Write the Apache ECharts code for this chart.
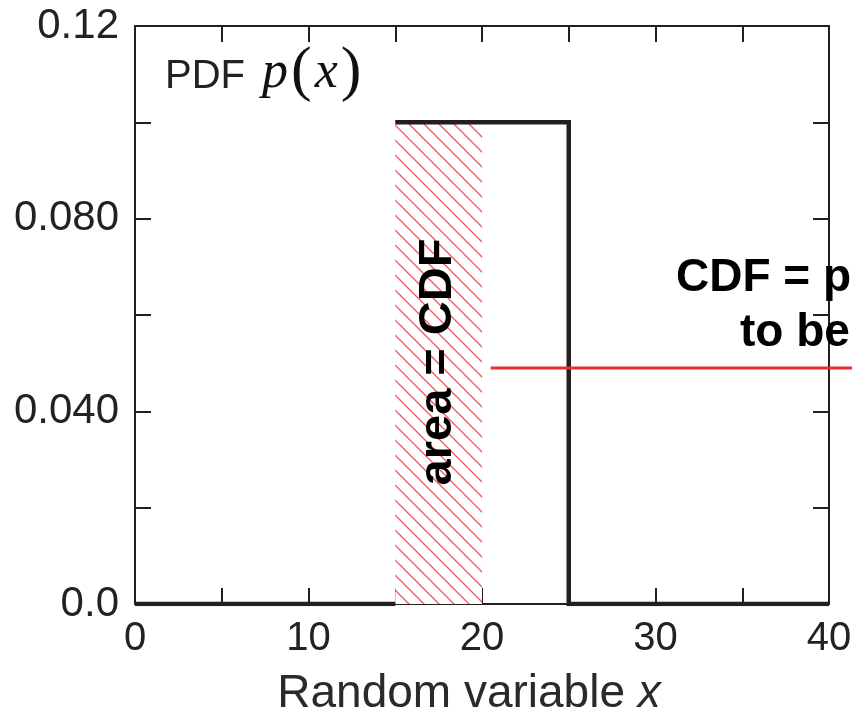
<!DOCTYPE html>
<html>
<head>
<meta charset="utf-8">
<script src="https://cdn.jsdelivr.net/npm/echarts@6/dist/echarts.min.js"></script>
<style>
  html, body { margin: 0; padding: 0; background: #fff; }
  #chart { width: 852px; height: 711px; }
</style>
</head>
<body>
<div id="chart"></div>
<script>
// step PDF p(x): uniform between 15 and 25
var pdfX = [0, 15, 15, 25, 25, 40];
var pdfY = [0, 0, 0.1, 0.1, 0, 0];
// hatched area = CDF
var hatchX = [15, 20];
var hatchY = [0.1, 0.1];
// red level line (runs off the right edge)
var cdfLineX = [20.5, 42];
var cdfLineY = [0.049, 0.049];
// axis tick labels
var xLabelValues = [0, 10, 20, 30, 40];
var yLabelValues = [0, 0.04, 0.08, 0.12];
var yLabelTexts = ['0.0', '0.040', '0.080', '0.12'];

var ink = '#231f20';

function hatchPattern() {
  var c = document.createElement('canvas');
  c.width = 15; c.height = 15;
  var g = c.getContext('2d');
  g.fillStyle = '#fff';
  g.fillRect(0, 0, 15, 15);
  g.strokeStyle = '#f5555a';
  g.lineWidth = 1.3;
  g.beginPath();
  g.moveTo(-2, -2); g.lineTo(17, 17);
  g.moveTo(-2, 13); g.lineTo(2, 17);
  g.moveTo(13, -2); g.lineTo(17, 2);
  g.stroke();
  return c;
}

function pairs(xs, ys) {
  return xs.map(function (x, i) { return [x, ys[i]]; });
}

// fresh axis object each time, ticks pointing into the plot
function makeAxis(extra) {
  var ax = {
    type: 'value',
    axisLine: { show: true, onZero: false, lineStyle: { color: ink, width: 2 } },
    axisTick: { show: true, inside: true, length: 16, lineStyle: { color: ink, width: 2 } },
    splitLine: { show: false }
  };
  for (var k in extra) ax[k] = extra[k];
  return ax;
}

var pdfPts = pairs(pdfX, pdfY);

var chart = echarts.init(document.getElementById('chart'));
chart.setOption({
  animation: false,
  grid: { left: 135, right: 23, top: 26, bottom: 107, outerBoundsMode: 'none', containLabel: false },
  xAxis: [
    makeAxis({
      position: 'bottom', min: 0, max: 40, interval: 5,
      axisLabel: {
        fontFamily: 'Liberation Sans', fontSize: 40, color: '#222', margin: 15,
        formatter: function (v) { return xLabelValues.indexOf(v) >= 0 ? String(v) : ''; }
      },
      name: '{a|Random variable }{i|x}',
      nameLocation: 'middle',
      nameGap: 67,
      nameTextStyle: {
        padding: [0, 26, 0, 0],
        rich: {
          a: { fontFamily: 'Liberation Sans', fontSize: 46, color: '#2a2a2a' },
          i: { fontFamily: 'Liberation Sans', fontStyle: 'italic', fontSize: 46, color: '#2a2a2a' }
        }
      }
    }),
    makeAxis({
      position: 'top', min: 0, max: 40, interval: 5,
      axisLabel: { show: false }
    })
  ],
  yAxis: [
    makeAxis({
      position: 'left', min: 0, max: 0.12, interval: 0.02,
      axisLabel: {
        fontFamily: 'Liberation Sans', fontSize: 42, color: '#222', margin: 16,
        formatter: function (v) {
          for (var i = 0; i < yLabelValues.length; i++) {
            if (Math.abs(v - yLabelValues[i]) < 1e-9) return yLabelTexts[i];
          }
          return '';
        }
      }
    }),
    makeAxis({
      position: 'right', min: 0, max: 0.12, interval: 0.02,
      axisLabel: { show: false }
    })
  ],
  series: [
    {
      type: 'line',
      data: pairs(hatchX, hatchY),
      symbol: 'none',
      lineStyle: { width: 0 },
      areaStyle: { color: { image: hatchPattern(), repeat: 'repeat' }, opacity: 1 },
      z: 2
    },
    {
      type: 'line',
      data: pdfPts.slice(0, 2),
      symbol: 'none',
      lineStyle: { color: ink, width: 4.5 },
      z: 3
    },
    {
      type: 'line',
      data: pdfPts.slice(2),
      symbol: 'none',
      lineStyle: { color: ink, width: 4.5, join: 'miter' },
      z: 3
    }
  ]
});

// red line goes past the axis max, so place it with the axis scale
var p0 = chart.convertToPixel({ gridIndex: 0 }, [cdfLineX[0], cdfLineY[0]]);
var p1 = chart.convertToPixel({ gridIndex: 0 }, [cdfLineX[1], cdfLineY[1]]);

chart.setOption({
  graphic: [
    {
      type: 'line', z: 10,
      shape: { x1: p0[0], y1: p0[1], x2: p1[0], y2: p1[1] },
      style: { stroke: '#ee2b30', lineWidth: 3 }
    },
    {
      type: 'text', left: 165, top: 42, z: 10,
      style: {
        text: '{a|PDF }{p|p}{b|(}{p|x}{b|)}',
        rich: {
          a: { fontFamily: 'Liberation Sans', fontSize: 40, fill: '#222', padding: [8, 4, 0, 0] },
          p: { fontFamily: 'Liberation Serif', fontStyle: 'italic', fontSize: 52, fill: '#111', padding: [0, 2, 0, 2] },
          b: { fontFamily: 'Liberation Serif', fontSize: 62, fill: '#111', padding: [0, 1, 0, 1] }
        }
      }
    },
    {
      type: 'text', x: 438, y: 362, rotation: Math.PI / 2, z: 10,
      style: {
        text: 'area = CDF',
        fontFamily: 'Liberation Sans', fontWeight: 'bold', fontSize: 47, fill: '#000',
        textAlign: 'center', textVerticalAlign: 'middle'
      }
    },
    {
      type: 'text', x: 676, y: 278, z: 10,
      style: {
        text: 'CDF = probability',
        fontFamily: 'Liberation Sans', fontWeight: 'bold', fontSize: 46, fill: '#000',
        textAlign: 'left', textVerticalAlign: 'middle'
      }
    },
    {
      type: 'text', x: 740, y: 333, z: 10,
      style: {
        text: 'to be below x',
        fontFamily: 'Liberation Sans', fontWeight: 'bold', fontSize: 46, fill: '#000',
        textAlign: 'left', textVerticalAlign: 'middle'
      }
    }
  ]
});
</script>
</body>
</html>
